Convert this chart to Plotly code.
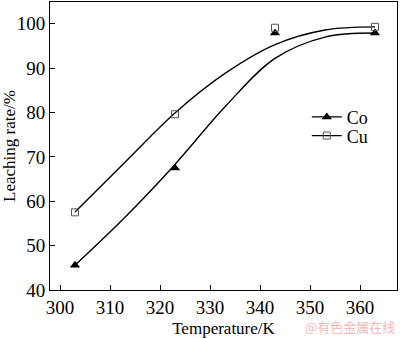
import plotly.graph_objects as go

# Measured points
temp = [303, 323, 343, 363]
co_rate = [45.6, 67.5, 97.9, 97.9]
cu_rate = [57.5, 79.6, 99.1, 99.3]

# Fitted curves
co_fit_t = [303, 313, 323, 333, 343, 353, 363]
co_fit_v = [45.6, 56.4, 68.3, 81.3, 92.2, 97.0, 97.9]
cu_fit_t = [303, 313, 323, 333, 343, 353, 363]
cu_fit_v = [57.6, 68.8, 79.9, 88.8, 95.3, 98.6, 99.3]

font_family = "Liberation Serif"

fig = go.Figure()
fig.add_trace(go.Scatter(x=co_fit_t, y=co_fit_v, mode="lines", line=dict(color="black", width=1.4, shape="spline", smoothing=1.0), showlegend=False, hoverinfo="skip"))
fig.add_trace(go.Scatter(x=cu_fit_t, y=cu_fit_v, mode="lines", line=dict(color="black", width=1.4, shape="spline", smoothing=1.0), showlegend=False, hoverinfo="skip"))
fig.add_trace(go.Scatter(x=temp, y=co_rate, mode="markers", marker=dict(symbol="triangle-up", size=9, color="black"), showlegend=False))
fig.add_trace(go.Scatter(x=temp, y=cu_rate, mode="markers", marker=dict(symbol="square-open", size=7, color="#555555", line=dict(width=1)), showlegend=False))
# legend entries
fig.add_trace(go.Scatter(x=[None], y=[None], mode="lines+markers", name="Co", legend="legend",
                         line=dict(color="black", width=1.4), marker=dict(symbol="triangle-up", size=9, color="black")))
fig.add_trace(go.Scatter(x=[None], y=[None], mode="lines+markers", name="Cu", legend="legend2",
                         line=dict(color="black", width=1.4), marker=dict(symbol="square-open", size=7, color="#555555", line=dict(width=1))))

axis_common = dict(ticks="inside", ticklen=5, tickcolor="black", showline=True, mirror=True,
                   linecolor="black", linewidth=1, showgrid=False, zeroline=False,
                   tickfont=dict(size=19))

fig.update_layout(
    width=400, height=338,
    margin=dict(l=50, r=3, t=1, b=46),
    paper_bgcolor="white", plot_bgcolor="white",
    font=dict(family=font_family, size=17, color="black"),
    legend=dict(x=0.74, y=0.60, xanchor="left", yanchor="middle", bgcolor="rgba(0,0,0,0)",
                font=dict(size=18), itemwidth=30),
    legend2=dict(x=0.74, y=0.535, xanchor="left", yanchor="middle", bgcolor="rgba(0,0,0,0)",
                 font=dict(size=18), itemwidth=30),
    xaxis=dict(range=[298, 367.4], tickvals=[300, 310, 320, 330, 340, 350, 360],
               title=dict(text="Temperature/K", font=dict(size=17), standoff=7), **axis_common),
    yaxis=dict(range=[40, 104.9], tickvals=[40, 50, 60, 70, 80, 90, 100],
               title=dict(text="Leaching rate/%", font=dict(size=17), standoff=4), **axis_common),
)
fig.add_annotation(text="@有色金属在线", xref="paper", yref="paper", x=1.0, y=-0.125,
                   xanchor="right", yanchor="middle", showarrow=False,
                   font=dict(family="Noto Sans CJK SC", size=13, color="#f2b8b8"))

fig.write_html("out.html")
